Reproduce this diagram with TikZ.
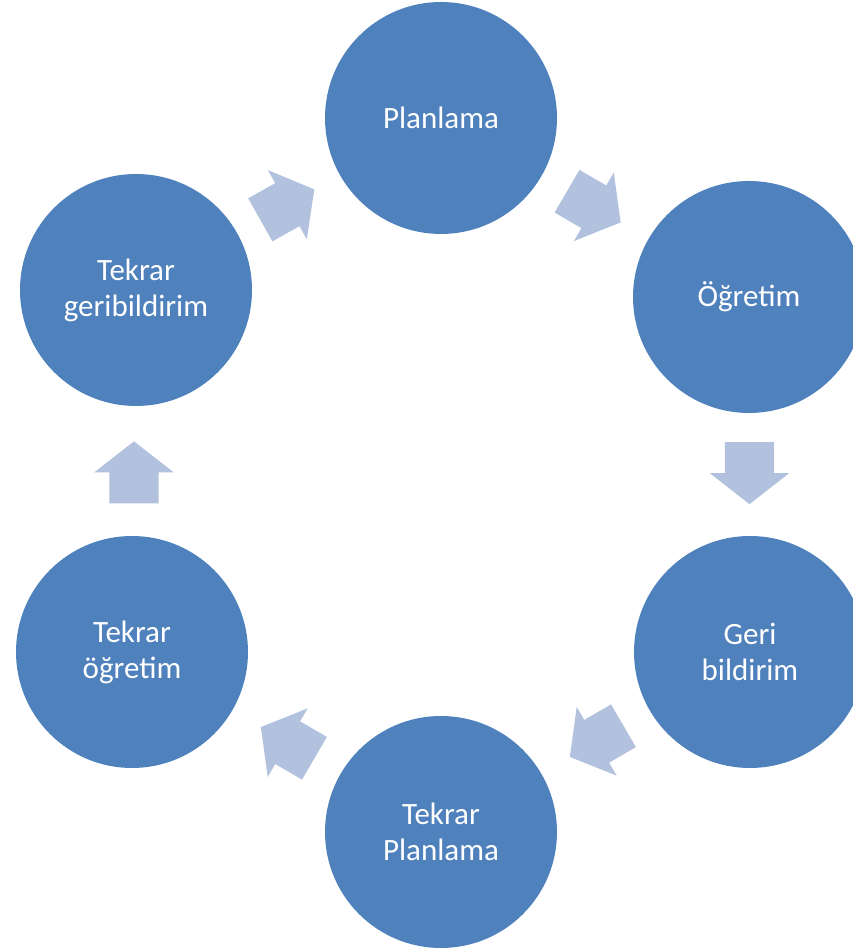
\documentclass[tikz,border=0pt]{standalone}
\usepackage{fontspec}
\setmainfont{Carlito}
\usetikzlibrary{shapes,calc,positioning}

\definecolor{stageblue}{HTML}{4F81BD}
\definecolor{flowblue}{HTML}{B1C1DE}

\begin{document}
\begin{tikzpicture}[x=1pt, y=1pt,
    stage/.style={circle, fill=stageblue, minimum size=232pt, inner sep=0pt,
      text=white, align=center, font=\fontsize{31}{36}\selectfont},
    flow/.style={single arrow, fill=flowblue, inner xsep=0pt, inner ysep=24.5pt,
      minimum height=62pt, minimum width=79pt, single arrow head extend=15pt,
      single arrow tip angle=104, xshift=-11pt}]
    \useasboundingbox (0,0) rectangle (852,950);

    \node [stage] (plan) at (441,832) {Planlama};
    \node [stage] (ogr)  at (749,653) {Öğretim};
    \node [stage] (geri) at (750,298) {Geri\\bildirim};
    \node [stage] (tplan) at (441,118) {Tekrar\\Planlama};
    \node [stage] (togr) at (132,298) {Tekrar\\öğretim};
    \node [stage] (tger) at (136,660) {Tekrar\\geribildirim};

    \node [rotate=29.4, flow]  (f1) at ($(tger)!.5!(plan)$) {};
    \node [rotate=-30.2, flow] (f2) at ($(plan)!.5!(ogr)$) {};
    \node [rotate=-90, flow]   (f3) at ($(ogr)!.5!(geri)$) {};
    \node [rotate=210.2, flow] (f4) at ($(geri)!.5!(tplan)$) {};
    \node [rotate=149.8, flow] (f5) at ($(tplan)!.5!(togr)$) {};
    \node [rotate=90, flow]    (f6) at ($(togr)!.5!(tger)$) {};
  \end{tikzpicture}
\end{document}
